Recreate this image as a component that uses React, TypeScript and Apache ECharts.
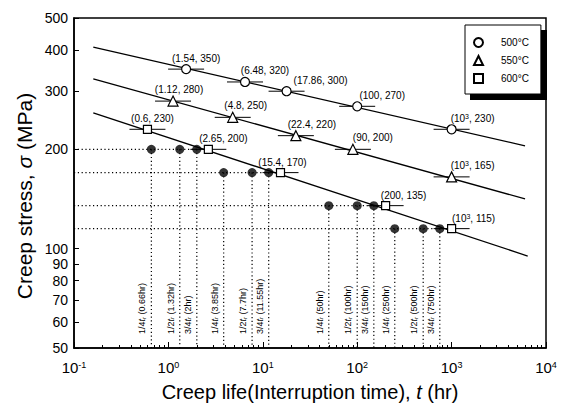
import React, { useEffect, useRef } from "react";
import * as echarts from "echarts";

// ---------- data ----------
const temps = ["500°C", "550°C", "600°C"];
const rupture500 = [[1.54, 350], [6.48, 320], [17.86, 300], [100, 270], [1000, 230]];
const rupture550 = [[1.12, 280], [4.8, 250], [22.4, 220], [90, 200], [1000, 165]];
const rupture600 = [[0.6, 230], [2.65, 200], [15.4, 170], [200, 135], [1000, 115]];
const fit500 = [[0.16, 408], [6000, 205]];
const fit550 = [[0.16, 327], [6000, 141.5]];
const fit600 = [[0.16, 258], [6400, 95]];
const interruptStress = [200, 170, 135, 115];
const interruptRupture = [2.65, 15.4, 200, 1000];
const interruptTimes = [[0.66, 1.32, 2], [3.85, 7.7, 11.55], [50, 100, 150], [250, 500, 750]];
const interruptHours = [["0.66", "1.32", "2"], ["3.85", "7.7", "11.55"], ["50", "100", "150"], ["250", "500", "750"]];
const fractions = ["1/4", "1/2", "3/4"];
const xMajorTicks = [0.1, 1, 10, 100, 1000, 10000];
const xTickExponents = ["-1", "0", "1", "2", "3", "4"];
const yTicks = [50, 60, 70, 80, 90, 100, 200, 300, 400, 500];
const xTitle = "Creep life(Interruption time), {i|t} (hr)";
const yTitle = "Creep stress, {i|σ} (MPa)";

// label horizontal offsets (layout only)
const labelDx = [
  [10, 20, 34, 25, 21],
  [6, 13, 16, 20, 21],
  [5, 15, 2, 18, 22],
];

const FONT = "'Liberation Sans', Arial, sans-serif";

function minorTicks(): number[] {
  const out: number[] = [];
  for (let e = -1; e < 4; e++) {
    for (let m = 2; m <= 9; m++) out.push(m * Math.pow(10, e));
  }
  return out;
}

function fmtT(t: number) {
  return t === 1000 ? "10{s|3}" : String(t);
}

export default function App() {
  const ref = useRef<HTMLDivElement>(null);
  useEffect(() => {
    if (!ref.current) return;
    const chart = echarts.init(ref.current, undefined, { renderer: "svg" });
    const ruptures = [rupture500, rupture550, rupture600];
    const symbols = ["circle", "triangle", "rect"];
    const sizes = [9, 10, 8];

    const pointSeries = ruptures.map((arr, k) => ({
      name: temps[k],
      type: "scatter",
      symbol: symbols[k],
      symbolSize: sizes[k],
      z: 6,
      itemStyle: { color: "#fff", borderColor: "#000", borderWidth: 1.2, opacity: 1 },
      label: {
        show: true,
        position: "top",
        distance: 1,
        fontFamily: FONT,
        fontSize: 10,
        color: "#000",
        formatter: (p: any) => `(${fmtT(p.value[0])}, ${p.value[1]})`,
        rich: { s: { fontSize: 7, verticalAlign: "top", lineHeight: 8, fontFamily: FONT } },
      },
      data: arr.map((d, i) => ({ value: d, label: { offset: [labelDx[k][i], 0] } })),
    }));

    const fitSeries = [fit500, fit550, fit600].map((arr) => ({
      type: "line",
      showSymbol: false,
      symbol: "none",
      z: 4,
      lineStyle: { color: "#000", width: 1.3 },
      data: arr,
    }));

    const allPoints = ([] as number[][]).concat(rupture500, rupture550, rupture600);

    const guideData: any[] = [];
    interruptTimes.forEach((row, i) =>
      row.forEach((t, j) => guideData.push([t, interruptStress[i], i, j]))
    );

    const option: any = {
      animation: false,
      grid: {
        left: 74,
        right: 16,
        top: 18,
        bottom: 63,
        show: true,
        borderColor: "#000",
        borderWidth: 1.5,
        backgroundColor: "transparent",
      },
      legend: {
        data: temps,
        orient: "vertical",
        left: 465,
        top: 25,
        itemWidth: 9,
        itemHeight: 9,
        itemGap: 7,
        padding: [12, 12, 10, 8],
        backgroundColor: "#fff",
        borderColor: "#000",
        borderWidth: 1,
        z: 10,
        textStyle: { fontFamily: FONT, fontSize: 10, color: "#000", padding: [0, 0, 0, 13] },
        selectedMode: false,
      },
      graphic: [
        {
          type: "rect",
          z: 9,
          shape: { x: 470, y: 30, width: 77, height: 70 },
          style: { fill: "#000" },
        },
        {
          type: "text",
          x: 24,
          y: 196,
          rotation: Math.PI / 2,
          style: {
            text: yTitle,
            fontFamily: FONT,
            fontSize: 21,
            fill: "#000",
            align: "center",
            verticalAlign: "middle",
            rich: { i: { fontStyle: "italic", fontFamily: FONT, fontSize: 21, fill: "#000" } },
          },
        },
      ],
      xAxis: [
        {
          type: "log",
          logBase: 10,
          min: 0.1,
          max: 10000,
          name: xTitle,
          nameLocation: "middle",
          nameGap: 34,
          nameTextStyle: {
            fontFamily: FONT,
            fontSize: 20,
            color: "#000",
            rich: { i: { fontStyle: "italic", fontFamily: FONT, fontSize: 20 } },
          },
          axisLine: { show: true, lineStyle: { color: "#000", width: 1.5 } },
          axisTick: { show: true, inside: true, length: 6, customValues: xMajorTicks, lineStyle: { color: "#000", width: 1 } },
          minorTick: { show: false },
          splitLine: { show: false },
          axisLabel: {
            customValues: xMajorTicks,
            margin: 12,
            color: "#000",
            fontFamily: FONT,
            fontSize: 15,
            formatter: (v: number) => {
              const idx = xMajorTicks.findIndex((m) => Math.abs(m - v) / m < 1e-6);
              return `10{s|${idx >= 0 ? xTickExponents[idx] : ""}}`;
            },
            rich: { s: { fontSize: 9, verticalAlign: "top", lineHeight: 10, fontFamily: FONT } },
          },
        },
        {
          type: "log",
          logBase: 10,
          min: 0.1,
          max: 10000,
          gridIndex: 0,
          position: "bottom",
          axisLine: { show: false },
          axisLabel: { show: false },
          splitLine: { show: false },
          axisTick: { show: true, inside: true, length: 3, customValues: minorTicks(), lineStyle: { color: "#000", width: 1 } },
        },
      ],
      yAxis: {
        type: "log",
        logBase: 10,
        min: 50,
        max: 500,
        axisLine: { show: true, lineStyle: { color: "#000", width: 1.5 } },
        axisTick: { show: true, inside: true, length: 5, customValues: yTicks, lineStyle: { color: "#000", width: 1 } },
        splitLine: { show: false },
        minorTick: { show: false },
        axisLabel: {
          customValues: yTicks,
          margin: 6,
          color: "#000",
          fontFamily: FONT,
          fontSize: 14,
          lineHeight: 11,
          formatter: (v: number) => String(Math.round(v)),
        },
      },
      series: [
        // horizontal dotted guides
        {
          type: "custom",
          z: 1,
          silent: true,
          data: interruptStress.map((s, i) => [interruptRupture[i], s]),
          renderItem: (params: any, api: any) => {
            const p0 = api.coord([0.1, api.value(1)]);
            const p1 = api.coord([api.value(0), api.value(1)]);
            return {
              type: "line",
              shape: { x1: p0[0], y1: p0[1], x2: p1[0], y2: p1[1] },
              style: { stroke: "#000", lineWidth: 1.2, lineDash: [1.2, 2.6] },
            };
          },
        },
        // vertical dotted guides + rotated labels
        {
          type: "custom",
          z: 1,
          silent: true,
          data: guideData,
          renderItem: (params: any, api: any) => {
            const t = api.value(0);
            const s = api.value(1);
            const i = api.value(2);
            const j = api.value(3);
            const p0 = api.coord([t, s]);
            const p1 = api.coord([t, 50]);
            return {
              type: "group",
              children: [
                {
                  type: "line",
                  shape: { x1: p0[0], y1: p0[1], x2: p1[0], y2: p1[1] },
                  style: { stroke: "#000", lineWidth: 1.2, lineDash: [1.2, 2.6] },
                },
                {
                  type: "text",
                  x: p1[0] - 9,
                  y: p1[1] - 14,
                  rotation: Math.PI / 2,
                  style: {
                    text: `${fractions[j]}{i|t}{r|r} (${interruptHours[i][j]}hr)`,
                    fontFamily: FONT,
                    fontSize: 9,
                    fill: "#000",
                    align: "left",
                    verticalAlign: "middle",
                    rich: {
                      i: { fontStyle: "italic", fontFamily: FONT, fontSize: 9, fill: "#000" },
                      r: { fontFamily: FONT, fontSize: 6, verticalAlign: "bottom", fill: "#000" },
                    },
                  },
                },
              ],
            };
          },
        },
        ...fitSeries,
        // horizontal bars through rupture points
        {
          type: "custom",
          z: 5,
          silent: true,
          data: allPoints,
          renderItem: (params: any, api: any) => {
            const p = api.coord([api.value(0), api.value(1)]);
            return {
              type: "line",
              shape: { x1: p[0] - 18, y1: p[1], x2: p[0] + 18, y2: p[1] },
              style: { stroke: "#000", lineWidth: 1 },
            };
          },
        },
        // interruption test points
        {
          type: "scatter",
          symbol: "circle",
          symbolSize: 9,
          z: 5,
          itemStyle: { color: "#000" },
          data: guideData.map((d) => [d[0], d[1]]),
        },
        ...pointSeries,
      ],
    };
    chart.setOption(option);
    return () => chart.dispose();
  }, []);
  return (
    <div
      ref={ref}
      style={{ position: "absolute", left: 0, top: 0, width: 562, height: 411 }}
    />
  );
}
